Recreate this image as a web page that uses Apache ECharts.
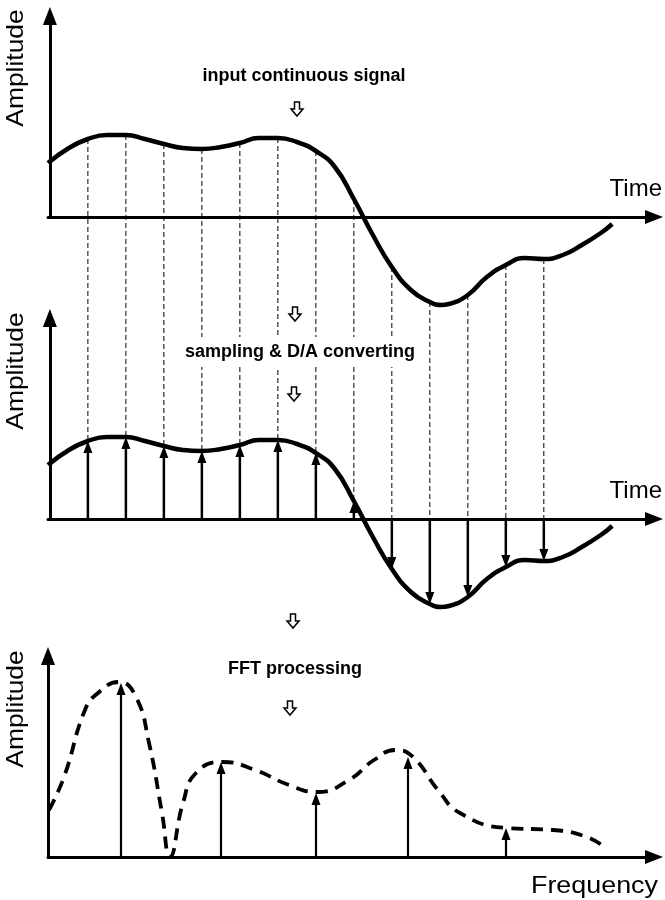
<!DOCTYPE html>
<html><head><meta charset="utf-8">
<script src="https://cdn.jsdelivr.net/npm/echarts@6/dist/echarts.min.js"></script>
<style>html,body{margin:0;padding:0;background:#fff}#c{width:665px;height:900px}</style>
</head><body><div id="c"></div>
<script>
// ---------- data ----------
const signalTime = [-0.05, 0.5, 1, 1.5, 2, 2.5, 3, 3.5, 4, 4.5, 5, 5.5, 6, 6.5, 7, 7.5, 8, 8.5, 9, 9.5, 10, 10.3, 10.5, 11, 11.5, 12, 12.5, 13, 13.5, 14, 14.5, 14.8];
const signalAmp  = [5.4, 6.9, 7.8, 8.2, 8.2, 7.8, 7.3, 6.9, 6.8, 7.0, 7.4, 7.9, 7.9, 7.5, 6.6, 5.0, 1.8, -1.8, -5.0, -7.3, -8.5, -8.8, -8.7, -7.8, -6.0, -4.8, -4.1, -4.2, -3.8, -2.8, -1.6, -0.7];
const sampleTime = [1, 2, 3, 4, 5, 6, 7, 8, 9, 10, 11, 12, 13];
const sampleAmp  = [7.8, 8.2, 7.3, 6.8, 7.4, 7.9, 6.6, 1.8, -5.0, -8.5, -7.8, -4.8, -4.2];
const spectrumFreq = [0.1, 1.6, 3.7, 5.0, 7.1, 8.8, 10.1, 11.4, 12.2, 13.5, 14.8, 17.5, 20.7, 24.1, 26.9, 30.1, 32.6, 34.8, 36.5, 39.0, 41.2, 45.8, 50.5, 53.9, 55.6];
const spectrumAmp  = [4.7, 8.0, 14.7, 16.4, 17.5, 16.0, 11.4, 4.4, 0.0, 5.4, 8.4, 9.5, 8.7, 7.2, 6.5, 7.7, 9.7, 10.7, 10.0, 6.7, 4.4, 2.9, 2.7, 2.0, 1.0];
const peakFreq = [7.3, 17.3, 26.8, 36.0, 45.8];
const peakAmp  = [17.4, 9.5, 6.4, 10.0, 2.9];
const yTitle = 'Amplitude';
const timeTitle = 'Time';
const freqTitle = 'Frequency';
const notes = ['input continuous signal', 'sampling & D/A converting', 'FFT processing'];

// ---------- layout ----------
const LEFT = 48, RIGHT = 654;
const panels = [ {top: 16, axis: 217}, {top: 318, axis: 519}, {top: 656, axis: 857} ];
const timeMin = -0.05, timeMax = 15.9, freqMax = 60.6;
const INK = '#000';
const labelFont = '24px "Liberation Sans", Arial, sans-serif';
const noteFont = 'bold 18px "Liberation Sans", Arial, sans-serif';

const grids = panels.map(p => ({left: LEFT, width: RIGHT - LEFT, top: p.top, height: p.axis - p.top}));
const axisLine = {show: true, symbol: ['none', 'triangle'], symbolSize: [14, 18], lineStyle: {color: INK, width: 3}};
const bare = {axisTick: {show: false}, axisLabel: {show: false}, splitLine: {show: false}};
const xAxes = [0, 1, 2].map(i => Object.assign({type: 'value', gridIndex: i, min: i < 2 ? timeMin : 0, max: i < 2 ? timeMax : freqMax, axisLine}, bare));
const yAxes = [0, 1, 2].map(i => Object.assign({type: 'value', gridIndex: i, min: 0, max: (panels[i].axis - panels[i].top) / 10, axisLine}, bare));

const zip = (a, b) => a.map((v, i) => [v, b[i]]);

function stemArrows(api, lw) {
  const t = api.value(0), v = api.value(1);
  const base = api.coord([t, 0]);
  const tip = api.coord([t, v]);
  const dir = v >= 0 ? 1 : -1;
  const hl = 12, hw = 4.5;
  return {
    type: 'group',
    children: [
      {type: 'line', shape: {x1: base[0], y1: base[1], x2: tip[0], y2: tip[1] + dir * hl * 0.6}, style: {stroke: INK, lineWidth: lw}},
      {type: 'polygon', shape: {points: [[tip[0], tip[1]], [tip[0] - hw, tip[1] + dir * hl], [tip[0] + hw, tip[1] + dir * hl]]}, style: {fill: INK}}
    ]
  };
}

const gap12 = panels[1].axis - panels[0].axis;

const series = [
  {type: 'custom', xAxisIndex: 0, yAxisIndex: 0, z: 1, clip: false, data: zip(sampleTime, sampleAmp),
   renderItem: (params, api) => {
     const t = api.value(0), v = api.value(1);
     const p1 = api.coord([t, v]);
     const p2 = api.coord([t, Math.max(v, 0)]);
     return {type: 'line', shape: {x1: p1[0], y1: p1[1], x2: p1[0], y2: p2[1] + gap12},
             style: {stroke: INK, lineWidth: 1, lineDash: [5, 3]}};
   }},
  {type: 'line', xAxisIndex: 0, yAxisIndex: 0, z: 3, clip: false, smooth: 0.5, showSymbol: false,
   data: zip(signalTime, signalAmp), lineStyle: {color: INK, width: 4.5}},
  {type: 'line', xAxisIndex: 1, yAxisIndex: 1, z: 3, clip: false, smooth: 0.5, showSymbol: false,
   data: zip(signalTime, signalAmp), lineStyle: {color: INK, width: 4.5}},
  {type: 'custom', xAxisIndex: 1, yAxisIndex: 1, z: 4, clip: false, data: zip(sampleTime, sampleAmp),
   renderItem: (params, api) => stemArrows(api, 2.5)},
  {type: 'line', xAxisIndex: 2, yAxisIndex: 2, z: 3, clip: false, smooth: 0.5, showSymbol: false,
   data: zip(spectrumFreq, spectrumAmp), lineStyle: {color: INK, width: 3.8, type: [12, 8]}},
  {type: 'custom', xAxisIndex: 2, yAxisIndex: 2, z: 4, clip: false, data: zip(peakFreq, peakAmp),
   renderItem: (params, api) => stemArrows(api, 2.2)}
];

function hollowArrow(cx, cy) {
  return {type: 'polygon', z: 120, x: cx, y: cy,
    shape: {points: [[-2.5, -7], [2.5, -7], [2.5, 0], [6, 0], [0, 7], [-6, 0], [-2.5, 0]]},
    style: {fill: '#fff', stroke: INK, lineWidth: 1.5}};
}
function text(str, x, y, font, opts) {
  return Object.assign({type: 'text', z: 110, x, y,
    style: Object.assign({text: str, font, fill: INK, align: 'center', verticalAlign: 'middle'}, (opts && opts.style) || {})},
    (opts && opts.el) || {});
}

const graphic = [
  text(yTitle, 16, 68, labelFont, {el: {rotation: Math.PI / 2, scaleX: 1.1}}),
  text(yTitle, 16, 371, labelFont, {el: {rotation: Math.PI / 2, scaleX: 1.1}}),
  text(yTitle, 16, 709, labelFont, {el: {rotation: Math.PI / 2, scaleX: 1.1}}),
  text(timeTitle, 662, 189, labelFont, {style: {align: 'right'}}),
  text(timeTitle, 662, 491, labelFont, {style: {align: 'right'}}),
  text(freqTitle, 658, 886, labelFont, {style: {align: 'right'}, el: {scaleX: 1.12}}),
  text(notes[0], 304, 76, noteFont),
  hollowArrow(297, 109),
  hollowArrow(295, 314),
  text(notes[1], 300, 352, noteFont, {style: {backgroundColor: '#fff', padding: [6, 4]}}),
  hollowArrow(294, 394),
  hollowArrow(293, 621),
  text(notes[2], 295, 669, noteFont),
  hollowArrow(290, 708)
];

const chart = echarts.init(document.getElementById('c'), null, {renderer: 'canvas'});
chart.setOption({
  animation: false,
  backgroundColor: '#fff',
  grid: grids,
  xAxis: xAxes,
  yAxis: yAxes,
  series,
  graphic
});
</script>
</body></html>
